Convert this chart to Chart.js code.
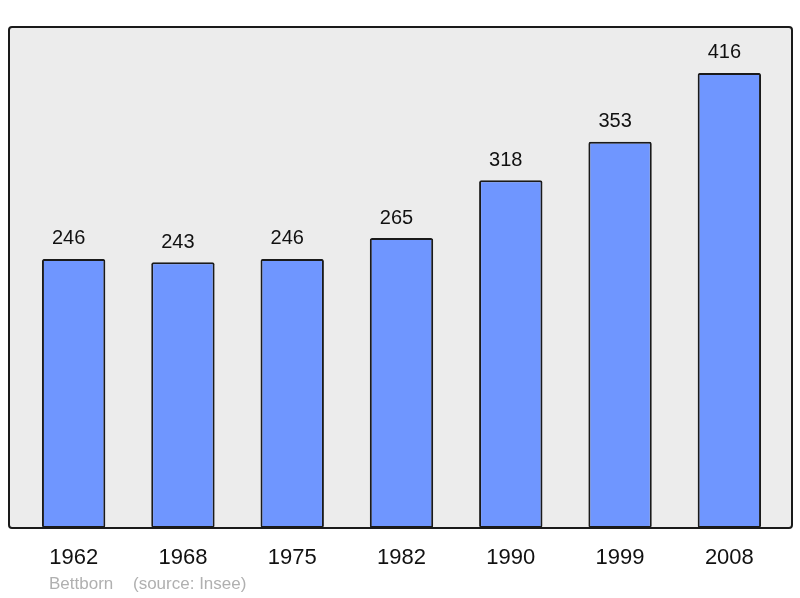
<!DOCTYPE html>
<html>
<head>
<meta charset="utf-8">
<script src="https://cdn.jsdelivr.net/npm/chart.js@4"></script>
<style>
  html, body { margin: 0; padding: 0; background: #fff; }
  #wrap { width: 800px; height: 598px; }
</style>
</head>
<body>
<div id="wrap"><canvas id="chart-pop"></canvas></div>
<script>
const years = ["1962", "1968", "1975", "1982", "1990", "1999", "2008"];
const population = [246, 243, 246, 265, 318, 353, 416];
const commune = "Bettborn";
const source = "(source: Insee)";

// box behind the bars + value labels + footer
const decorPlugin = {
    id: "decor",
    beforeDraw(chart) {
        const ctx = chart.ctx;
        const a = chart.chartArea;
        const x0 = a.left - 10, x1 = a.right + 8, y0 = a.top, y1 = a.bottom;
        ctx.save();
        ctx.beginPath();
        ctx.roundRect(x0, y0, x1 - x0, y1 - y0, 3);
        ctx.fillStyle = "#ececec";
        ctx.fill();
        ctx.restore();
    },
    afterDatasetsDraw(chart) {
        const ctx = chart.ctx;
        const a = chart.chartArea;
        const meta = chart.getDatasetMeta(0);
        ctx.save();
        ctx.font = "20px 'Liberation Sans', Arial, sans-serif";
        ctx.fillStyle = "#111";
        ctx.textAlign = "center";
        ctx.textBaseline = "middle";
        meta.data.forEach((bar, i) => {
            ctx.fillText(String(population[i]), bar.x - 5, bar.y - 20);
        });
        // border of the box
        const x0 = a.left - 10, x1 = a.right + 8;
        ctx.beginPath();
        ctx.roundRect(x0, a.top, x1 - x0, a.bottom - a.top, 3);
        ctx.lineWidth = 2;
        ctx.strokeStyle = "#1a1a1a";
        ctx.stroke();
        // footer
        ctx.font = "17px 'Liberation Sans', Arial, sans-serif";
        ctx.fillStyle = "#b0b0b0";
        ctx.textAlign = "left";
        ctx.fillText(commune, 49, 584);
        ctx.fillText(source, 133, 584);
        ctx.restore();
    }
};

new Chart(document.getElementById("chart-pop"), {
    type: "bar",
    data: {
        labels: years,
        datasets: [{
            data: population,
            backgroundColor: "#6f96ff",
            borderColor: "#1a1a1a",
            borderWidth: 2,
            borderRadius: 2,
            borderSkipped: false,
            barPercentage: 0.58,
            categoryPercentage: 1
        }]
    },
    options: {
        responsive: true,
        maintainAspectRatio: false,
        animation: false,
        layout: { padding: { top: 27, left: 19, right: 16, bottom: 0 } },
        plugins: { legend: { display: false }, tooltip: { enabled: false } },
        scales: {
            x: {
                offset: true,
                grid: { display: false, drawTicks: false },
                border: { display: false },
                ticks: {
                    color: "#111",
                    padding: 17,
                    font: { family: "'Liberation Sans', Arial, sans-serif", size: 22 }
                },
                afterFit(scale) { scale.height = 70; }
            },
            y: {
                display: false,
                min: 0,
                max: 458
            }
        }
    },
    plugins: [decorPlugin]
});
</script>
</body>
</html>
